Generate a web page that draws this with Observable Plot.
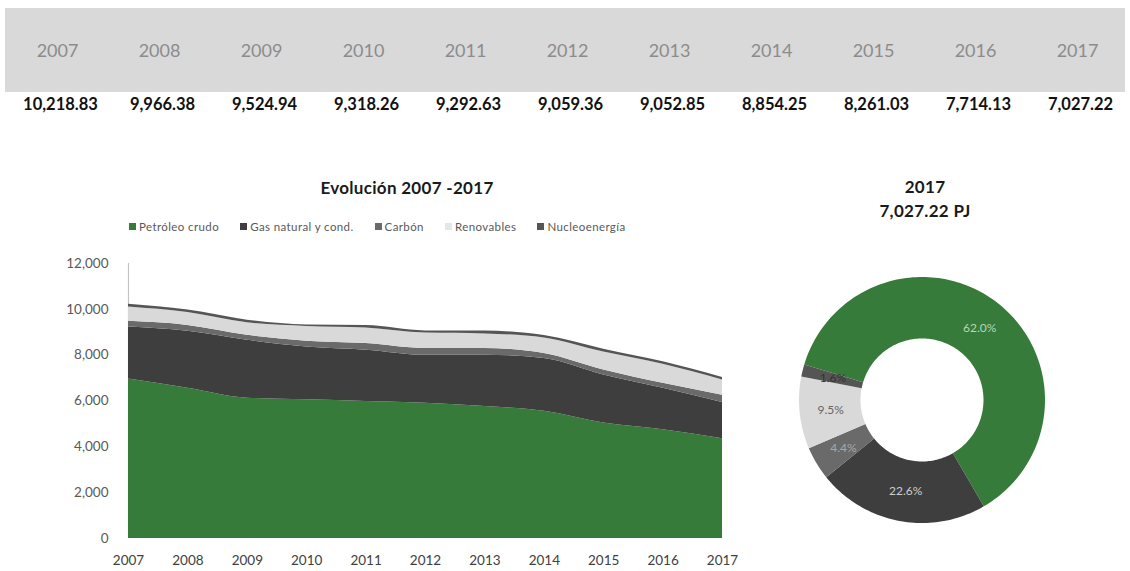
<!DOCTYPE html>
<html>
<head>
<meta charset="utf-8">
<script src="https://cdn.jsdelivr.net/npm/d3@7"></script>
<script src="https://cdn.jsdelivr.net/npm/@observablehq/plot@0.6"></script>
<style>
  body { margin: 0; background: #fff; font-family: Lato, "Open Sans", sans-serif; }
  #root { position: relative; width: 1130px; height: 571px; overflow: hidden; background: #fff; }
  .abs { position: absolute; }
  #band { left: 5px; top: 8px; width: 1120px; height: 84px; background: #d9d9d9; }
  .title { font-weight: bold; font-size: 17px; color: #1a1a1a; text-align: center; line-height: 24px; letter-spacing: 0.3px; }
  #legend { left: 129px; top: 220px; display: flex; font-size: 11.5px; letter-spacing: 0.4px; color: #595959; white-space: nowrap; }
  #legend .item { display: flex; align-items: center; margin-right: 21px; }
  #legend .sw { width: 7px; height: 7px; margin-right: 3px; }
  svg { overflow: visible; }
</style>
</head>
<body>
<div id="root">
  <div id="band" class="abs"></div>
  <div id="table" class="abs" style="left:0;top:0;"></div>
  <div class="abs title" style="left:207px;top:176px;width:400px;">Evolución 2007 -2017</div>
  <div id="legend" class="abs"></div>
  <div id="area" class="abs" style="left:0;top:240px;"></div>
  <div id="donutTitle" class="abs title" style="left:775px;top:175px;width:300px;"></div>
  <div id="donut" class="abs" style="left:770px;top:258px;"></div>
</div>
<script>
// ---------- data ----------
const years = [2007, 2008, 2009, 2010, 2011, 2012, 2013, 2014, 2015, 2016, 2017];
const totals = [10218.83, 9966.38, 9524.94, 9318.26, 9292.63, 9059.36, 9052.85, 8854.25, 8261.03, 7714.13, 7027.22];
const categories = ["Petróleo crudo", "Gas natural y cond.", "Carbón", "Renovables", "Nucleoenergía"];
const colors = ["#377b3a", "#3e3e3e", "#6a6a6a", "#d9d9d9", "#555555"];
const petroleo   = [6963, 6556, 6122, 6053, 5979, 5906, 5763, 5550, 5040, 4750, 4354];
const gas        = [2266, 2484, 2528, 2307, 2241, 2094, 2237, 2305, 2096, 1806, 1586];
const carbon     = [247, 260, 220, 250, 285, 290, 290, 215, 214, 214, 309];
const renovables = [629, 560, 541, 644, 679, 672, 636, 679, 785, 829, 666];
const nuclear    = [114, 106, 114, 64, 109, 97, 127, 105, 126, 115, 112];
const yTicks = [0, 2000, 4000, 6000, 8000, 10000, 12000];
const labelColors = ["#b9d5b9", "#cfcfcf", "#a8a8a8", "#666666", "#333333"];

const series = [petroleo, gas, carbon, renovables, nuclear];
const FONT = "Lato, 'Open Sans', sans-serif";

// ---------- top table ----------
const table = Plot.plot({
  width: 1130, height: 120, margin: 0,
  style: { background: "transparent", fontFamily: FONT },
  x: { type: "point", domain: years, range: [54, 1079], padding: 0, axis: null },
  y: { axis: null },
  marks: [
    Plot.text(years, { x: d => d, frameAnchor: "top", dy: 44, text: d => String(d),
      fill: "#8c8c8c", fontSize: 18, textAnchor: "middle", letterSpacing: "0.5px" }),
    Plot.text(years.map((y, i) => ({ year: y, v: totals[i] })), { x: "year", frameAnchor: "top", dy: 98,
      text: d => d3.format(",.2f")(d.v), fill: "#111", fontSize: 16.5, fontWeight: "bold",
      textAnchor: "middle", letterSpacing: "0.2px", dx: 3 })
  ]
});
document.getElementById("table").appendChild(table);

// ---------- legend ----------
const legend = document.getElementById("legend");
categories.forEach((c, i) => {
  const it = document.createElement("div"); it.className = "item";
  const sw = document.createElement("div"); sw.className = "sw"; sw.style.background = colors[i];
  if (i === 3) sw.style.background = "#e6e6e6";
  const tx = document.createElement("span"); tx.textContent = c;
  it.appendChild(sw); it.appendChild(tx); legend.appendChild(it);
});

// ---------- stacked area ----------
const long = [];
years.forEach((yr, i) => series.forEach((s, k) => long.push({ year: yr, cat: categories[k], value: s[i] })));

const area = Plot.plot({
  width: 760, height: 331,
  marginLeft: 128, marginRight: 38, marginTop: 23, marginBottom: 33,
  style: { background: "transparent", fontFamily: FONT, fontSize: "13px" },
  x: { domain: [2007, 2017], axis: null },
  y: { domain: [0, 12000], axis: null },
  color: { domain: categories, range: colors },
  marks: [
    Plot.ruleX([2007], { y1: 0, y2: 12000, stroke: "#c4c4c4", strokeWidth: 1.2 }),
    Plot.areaY(long, { x: "year", y: "value", fill: "cat", z: "cat", order: categories, curve: "monotone-x" }),
    Plot.axisX({ ticks: years, tickFormat: d3.format("d"), tickSize: 0, tickPadding: 17, label: null, fill: "#404040", fontSize: 13.5, letterSpacing: "0.3px" }),
    Plot.axisY({ ticks: yTicks, tickFormat: d3.format(","), tickSize: 0, tickPadding: 20, label: null, fill: "#595959", fontSize: 13.5, letterSpacing: "0.3px" })
  ]
});
document.getElementById("area").appendChild(area);

// ---------- donut ----------
const lastVals = series.map(s => s[s.length - 1]);
const lastTotal = totals[totals.length - 1];
document.getElementById("donutTitle").innerHTML = years[years.length - 1] + "<br>" + d3.format(",.2f")(lastTotal) + " PJ";
const sum = d3.sum(lastVals);
const startDeg = -73.2;
const inner = 0.5;
let acc = 0;
const slices = categories.map((c, i) => {
  const a0 = startDeg + acc / sum * 360; acc += lastVals[i];
  const a1 = startDeg + acc / sum * 360;
  return { cat: c, a0, a1, pct: lastVals[i] / lastTotal * 100, lc: labelColors[i] };
});
const pts = [];
slices.forEach(s => {
  const n = Math.max(2, Math.ceil((s.a1 - s.a0) / 1.5));
  for (let k = 0; k <= n; k++) {
    const t = (s.a0 + (s.a1 - s.a0) * k / n) * Math.PI / 180;
    pts.push({ cat: s.cat, x1: Math.sin(t), y1: Math.cos(t), x2: inner * Math.sin(t), y2: inner * Math.cos(t) });
  }
});
const midR = (1 + inner) / 2;
const donut = Plot.plot({
  width: 310, height: 290,
  marginLeft: 29, marginRight: 35, marginTop: 19, marginBottom: 25,
  style: { background: "transparent", fontFamily: FONT },
  x: { domain: [-1, 1], axis: null },
  y: { domain: [-1, 1], axis: null },
  color: { domain: categories, range: colors },
  marks: [
    Plot.area(pts, { x1: "x1", y1: "y1", x2: "x2", y2: "y2", z: "cat", fill: "cat", curve: "linear" }),
    ...slices.map(s => {
      const m = (s.a0 + s.a1) / 2 * Math.PI / 180;
      return Plot.text([s], { x: () => midR * Math.sin(m), y: () => midR * Math.cos(m),
        text: d => d.pct.toFixed(1) + "%", fill: s.lc, fontSize: 12 });
    })
  ]
});
document.getElementById("donut").appendChild(donut);
</script>
</body>
</html>
